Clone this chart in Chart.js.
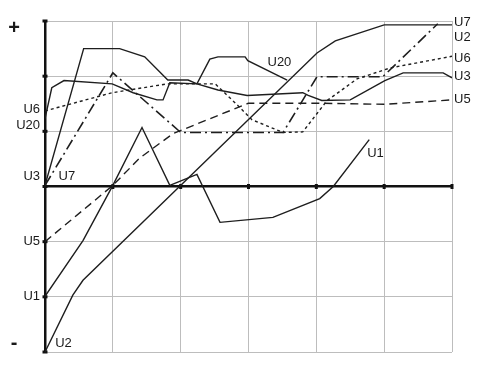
<!DOCTYPE html>
<html>
<head>
<meta charset="utf-8">
<script src="https://cdn.jsdelivr.net/npm/chart.js@4.4.1/dist/chart.umd.min.js"></script>
<style>
  html, body { margin: 0; padding: 0; background: #fff; }
  canvas { display: block; }
</style>
</head>
<body>
<canvas id="uChart" width="503" height="371"></canvas>
<script>
// Series: [x, y] pairs, x from 0 to 6, y from -3 to +3
const U1 = [[0, -1.99], [0.56, -0.98], [1, 0.02], [1.43, 1.07], [1.84, 0.02], [2.24, 0.22],
    [2.58, -0.65], [3.36, -0.56], [4.05, -0.22], [4.25, 0.0], [4.78, 0.85]];
const U2 = [[0, -3.0], [0.41, -1.97], [0.56, -1.70], [4.01, 2.42], [4.28, 2.64], [5, 2.93], [6, 2.93]];
const U3 = [[0, 0.02], [0.57, 2.50], [1.1, 2.50], [1.47, 2.35], [1.81, 1.93], [2.11, 1.93], [2.24, 1.86],
    [2.55, 1.75], [2.98, 1.65], [3.80, 1.70], [3.88, 1.65], [4.08, 1.56], [4.50, 1.57], [5.01, 1.92],
    [5.28, 2.06], [5.87, 2.06], [6, 1.97]];
const U5 = [[0, -1.0], [1, 0.02], [1.4, 0.52], [1.89, 0.96], [3, 1.51], [4.03, 1.51], [5, 1.49], [6, 1.57]];
const U6 = [[0, 1.37], [0.99, 1.70], [1.8, 1.86], [2.51, 1.86], [2.85, 1.46], [3.05, 1.21], [3.27, 1.10],
    [3.51, 0.98], [3.80, 0.99], [4.16, 1.56], [4.6, 1.95], [5.09, 2.15], [6, 2.36]];
const U7 = [[0, 0.02], [1, 2.06], [2, 0.98], [3.51, 0.98], [4.01, 1.99], [4.98, 1.99], [5.79, 2.95]];
const U20 = [[0, 1.23], [0.1, 1.79], [0.28, 1.92], [0.99, 1.86], [1.3, 1.70], [1.65, 1.57], [1.74, 1.57],
    [1.84, 1.88], [2.24, 1.86], [2.43, 2.31], [2.55, 2.35], [2.95, 2.35], [2.99, 2.28], [3.57, 1.93]];

const xTicks = [0, 1, 2, 3, 4, 5, 6];
const yTicks = [-3, -2, -1, 0, 1, 2, 3];

const toPts = arr => arr.map(p => ({ x: p[0], y: p[1] }));
const INK = '#1e1e1e';

function series(label, arr, dash, width) {
    return {
        label: label,
        data: toPts(arr),
        borderColor: INK,
        borderWidth: width || 1.4,
        borderDash: dash || [],
        pointRadius: 0,
        tension: 0,
        fill: false
    };
}

// text placed next to the curves (data coords) or in pixels for the +/- signs
const notes = [
    { t: 'U6', x: 0, y: 1.39, side: 'left' },
    { t: 'U20', x: 0, y: 1.10, side: 'left' },
    { t: 'U3', x: 0, y: 0.19, side: 'left' },
    { t: 'U5', x: 0, y: -1.0, side: 'left' },
    { t: 'U1', x: 0, y: -1.99, side: 'left' },
    { t: 'U7', x: 0.2, y: 0.19, side: 'in' },
    { t: 'U2', x: 0.15, y: -2.85, side: 'in' },
    { t: 'U7', x: 6, y: 2.98, side: 'right' },
    { t: 'U2', x: 6, y: 2.70, side: 'right' },
    { t: 'U6', x: 6, y: 2.33, side: 'right' },
    { t: 'U3', x: 6, y: 1.99, side: 'right' },
    { t: 'U5', x: 6, y: 1.57, side: 'right' },
    { t: 'U20', x: 3.28, y: 2.25, side: 'in' },
    { t: 'U1', x: 4.75, y: 0.60, side: 'in' }
];

const annotate = {
    id: 'annotate',
    beforeDatasetsDraw(chart) {
        const { ctx, scales: { x, y } } = chart;
        ctx.save();
        ctx.fillStyle = '#111';
        // tick marks on the two axes
        xTicks.forEach(v => {
            if (v === 0) return;
            ctx.fillRect(x.getPixelForValue(v) - 1.5, y.getPixelForValue(0) - 2.5, 3, 5);
        });
        yTicks.forEach(v => {
            ctx.fillRect(x.getPixelForValue(0) - 2.5, y.getPixelForValue(v) - 1.5, 5, 3);
        });
        ctx.restore();
    },
    afterDraw(chart) {
        const { ctx, scales: { x, y } } = chart;
        ctx.save();
        ctx.fillStyle = '#1a1a1a';
        ctx.font = '13px "Liberation Sans", Arial, sans-serif';
        ctx.textBaseline = 'middle';
        notes.forEach(n => {
            const px = x.getPixelForValue(n.x);
            const py = y.getPixelForValue(n.y);
            if (n.side === 'left') {
                ctx.textAlign = 'right';
                ctx.fillText(n.t, px - 5, py);
            } else if (n.side === 'right') {
                ctx.textAlign = 'left';
                ctx.fillText(n.t, px + 2, py);
            } else {
                ctx.textAlign = 'left';
                ctx.fillText(n.t, px, py);
            }
        });
        ctx.font = 'bold 20px "Liberation Sans", Arial, sans-serif';
        ctx.textAlign = 'center';
        ctx.fillText('+', 14, 28);
        ctx.fillText('-', 14, 343);
        ctx.restore();
    }
};

const gridColor = c => (c.tick && c.tick.value === 0 ? '#111' : '#bdbdbd');
const gridWidth = c => (c.tick && c.tick.value === 0 ? 2.5 : 1);

const config = {
    type: 'line',
    data: {
        datasets: [
            series('U1', U1),
            series('U2', U2),
            series('U3', U3),
            series('U5', U5, [8, 5]),
            series('U6', U6, [3, 3]),
            series('U7', U7, [11, 4, 2, 4], 1.6),
            series('U20', U20)
        ]
    },
    options: {
        responsive: false,
        animation: false,
        layout: {
            padding: { left: 45, right: 51, top: 21, bottom: 19 }
        },
        plugins: {
            legend: { display: false },
            tooltip: { enabled: false },
            title: { display: false }
        },
        scales: {
            x: {
                type: 'linear',
                min: 0,
                max: 6,
                ticks: { display: false, stepSize: 1 },
                grid: { color: gridColor, lineWidth: gridWidth, drawTicks: false },
                border: { display: false }
            },
            y: {
                type: 'linear',
                min: -3,
                max: 3,
                ticks: { display: false, stepSize: 1 },
                grid: { color: gridColor, lineWidth: gridWidth, drawTicks: false },
                border: { display: false }
            }
        }
    },
    plugins: [annotate]
};

const ctx = document.getElementById('uChart').getContext('2d');
new Chart(ctx, config);
</script>
</body>
</html>
